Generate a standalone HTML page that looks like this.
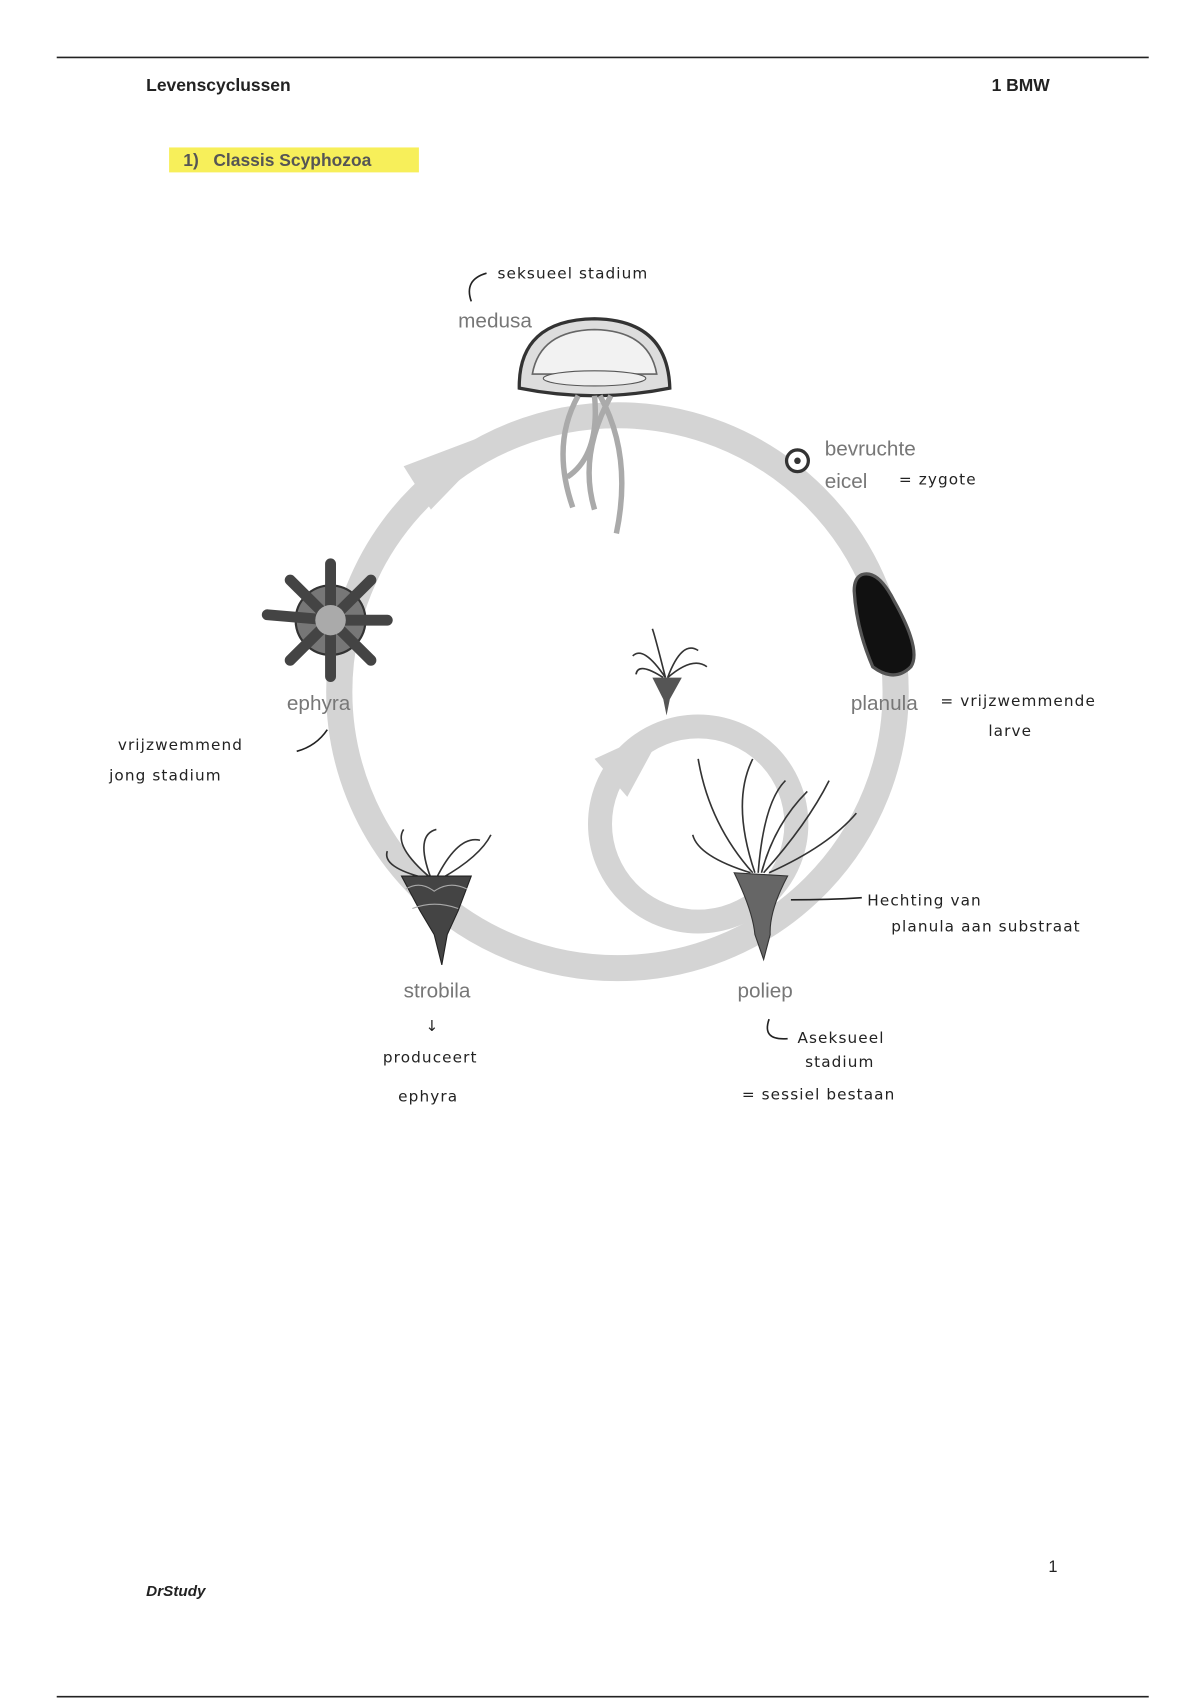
<!DOCTYPE html>
<html><head><meta charset="utf-8"><style>
html,body{margin:0;padding:0;background:#fff;}
svg{display:block;}
</style></head><body>
<svg width="1200" height="1700" viewBox="0 0 1100 1568" preserveAspectRatio="none" xmlns="http://www.w3.org/2000/svg" font-family="Liberation Sans, sans-serif">
<rect width="1100" height="1568" fill="#fff"/>
<line x1="52" y1="53" x2="1053" y2="53" stroke="#222" stroke-width="1.5"/>
<line x1="52" y1="1565" x2="1053" y2="1565" stroke="#222" stroke-width="1.5"/>
<text x="134" y="84" font-size="16" font-weight="bold" fill="#222">Levenscyclussen</text>
<text x="909" y="84" font-size="16" font-weight="bold" fill="#222">1 BMW</text>
<rect x="155" y="136" width="229" height="23" fill="#f7ef5a"/>
<text x="168" y="153" font-size="16" font-weight="bold" fill="#555">1)&#160;&#160;&#160;Classis Scyphozoa</text>

<!-- big cycle -->
<circle cx="566" cy="638" r="255" fill="none" stroke="#d4d4d4" stroke-width="24"/>
<polygon points="470,392 370,430 395,470" fill="#d4d4d4"/>
<!-- inner cycle -->
<circle cx="640" cy="760" r="90" fill="none" stroke="#d4d4d4" stroke-width="22"/>
<polygon points="610,670 545,700 575,735" fill="#d4d4d4"/>
<rect x="560" y="670" width="100" height="0" fill="#fff"/>

<!-- medusa -->
<path d="M476,358 Q475,295 545,294 Q612,295 614,358 Q545,372 476,358Z" fill="#ddd" stroke="#333" stroke-width="3"/>
<path d="M488,345 Q495,305 545,304 Q595,305 602,345Z" fill="#f2f2f2" stroke="#666" stroke-width="1.5"/>
<ellipse cx="545" cy="349" rx="47" ry="7" fill="#eee" stroke="#555"/>
<path d="M530,365 Q505,410 525,468 M545,365 Q550,420 520,440 M550,365 Q580,420 565,492 M560,365 Q530,420 545,470" stroke="#aaa" stroke-width="5" fill="none"/>
<text x="420" y="302" font-size="19" fill="#777">medusa</text>
<!-- egg -->
<circle cx="731" cy="425" r="10" fill="#fff" stroke="#333" stroke-width="3"/><circle cx="731" cy="425" r="3" fill="#333"/>
<text x="756" y="420" font-size="19" fill="#777">bevruchte</text>
<text x="756" y="450" font-size="19" fill="#777">eicel</text>
<!-- planula -->
<path d="M790,530 Q805,525 820,555 Q845,600 835,615 Q820,630 800,615 Q785,580 783,545 Q783,533 790,530Z" fill="#111" stroke="#555" stroke-width="3"/>
<text x="780" y="655" font-size="19" fill="#777">planula</text>
<!-- ephyra -->
<g transform="translate(303,572)">
<circle r="32" fill="#777" stroke="#333" stroke-width="2"/>
<g stroke="#444" stroke-width="10" stroke-linecap="round" fill="none">
<line x1="0" y1="0" x2="0" y2="-52"/><line x1="0" y1="0" x2="37" y2="-37"/><line x1="0" y1="0" x2="52" y2="0"/><line x1="0" y1="0" x2="37" y2="37"/>
<line x1="0" y1="0" x2="0" y2="52"/><line x1="0" y1="0" x2="-37" y2="37"/><line x1="0" y1="0" x2="-58" y2="-5"/><line x1="0" y1="0" x2="-37" y2="-37"/>
</g>
<circle r="14" fill="#aaa"/>
</g>
<text x="263" y="655" font-size="19" fill="#777">ephyra</text>
<!-- small polyp -->
<g stroke="#333" fill="none" stroke-width="1.5">
<path d="M610,625 Q590,595 580,605 M610,625 Q600,585 598,580 M612,625 Q625,590 640,600 M612,625 Q635,605 648,615 M608,625 Q585,610 583,622"/>
</g>
<path d="M598,625 L625,625 L614,645 L611,660 L608,645Z" fill="#555"/>
<!-- polyp -->
<g stroke="#333" fill="none" stroke-width="1.5">
<path d="M690,805 Q650,760 640,700 M692,805 Q670,740 690,700 M695,805 Q700,740 720,720 M700,805 Q740,760 760,720 M705,805 Q760,780 785,750 M688,805 Q640,790 635,770 M698,805 Q710,760 740,730"/>
</g>
<path d="M673,805 L722,808 Q705,840 706,862 L700,885 L692,862 Q690,840 673,805Z" fill="#666" stroke="#333"/>
<text x="676" y="920" font-size="19" fill="#777">poliep</text>
<!-- strobila -->
<g stroke="#333" fill="none" stroke-width="1.5">
<path d="M395,810 Q360,780 370,765 M395,810 Q380,770 400,765 M400,810 Q420,770 440,775 M405,810 Q440,790 450,770 M390,810 Q350,800 355,785"/>
</g>
<path d="M368,808 L432,808 L420,840 L410,862 L405,890 L398,862 L385,840Z" fill="#444" stroke="#222"/>
<path d="M372,820 Q385,812 398,822 Q412,812 428,820 M378,838 Q398,830 420,838" stroke="#aaa" fill="none"/>
<text x="370" y="920" font-size="19" fill="#777">strobila</text>

<!-- handwriting -->
<g font-family="DejaVu Sans, sans-serif" fill="#222" font-size="14" letter-spacing="1">
<path d="M432,278 Q425,258 446,252" stroke="#222" fill="none" stroke-width="1.5"/>
<text x="456" y="257">seksueel stadium</text>
<text x="824" y="447">= zygote</text>
<text x="862" y="651">= vrijzwemmende</text>
<text x="906" y="679">larve</text>
<text x="108" y="692">vrijzwemmend</text>
<text x="100" y="720">jong stadium</text>
<path d="M300,673 Q290,688 272,693" stroke="#222" fill="none" stroke-width="1.5"/>
<path d="M725,830 Q760,830 790,828" stroke="#222" fill="none" stroke-width="1.5"/>
<text x="795" y="835">Hechting van</text>
<text x="817" y="859">planula aan substraat</text>
<text x="390" y="951">↓</text>
<text x="351" y="980">produceert</text>
<text x="365" y="1016">ephyra</text>
<path d="M705,940 Q698,960 722,958" stroke="#222" fill="none" stroke-width="1.5"/>
<text x="731" y="962">Aseksueel</text>
<text x="738" y="984">stadium</text>
<text x="680" y="1014">= sessiel bestaan</text>
</g>

<text x="961" y="1450" font-size="15" fill="#222">1</text>
<text x="134" y="1472" font-size="14" font-weight="bold" font-style="italic" fill="#222">DrStudy</text>
</svg>
</body></html>
